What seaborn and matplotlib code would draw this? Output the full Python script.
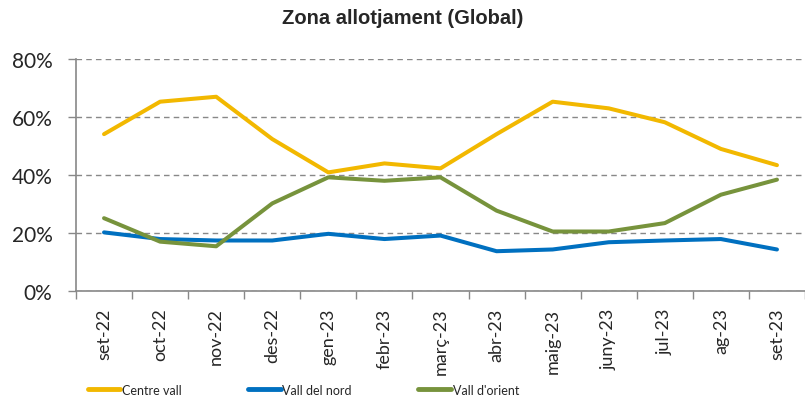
import seaborn as sns
import matplotlib.pyplot as plt
import matplotlib.ticker as mticker
import pandas as pd
import numpy as np

# Monthly share per zone (%)
months = ["set-22", "oct-22", "nov-22", "des-22", "gen-23", "febr-23", "març-23",
          "abr-23", "maig-23", "juny-23", "jul-23", "ag-23", "set-23"]
centre_vall = [54.1, 65.3, 67.0, 52.4, 40.9, 44.0, 42.3, 54.1, 65.3, 63.0, 58.2, 49.0, 43.4]
vall_nord = [20.2, 17.9, 17.4, 17.4, 19.7, 17.9, 19.1, 13.7, 14.3, 16.8, 17.4, 17.9, 14.3]
vall_orient = [25.1, 17.0, 15.4, 30.2, 39.2, 38.0, 39.2, 27.7, 20.5, 20.5, 23.4, 33.2, 38.4]
series_names = ["Centre vall", "Vall del nord", "Vall d'orient"]
colors = ["#F2B800", "#0070C0", "#77933C"]

df = pd.DataFrame({
    "pos": list(range(len(months))) * 3,
    "value": centre_vall + vall_nord + vall_orient,
    "zona": [n for n in series_names for _ in months],
})

sns.set_theme(style="white")
plt.rcParams["font.family"] = ["Lato", "DejaVu Sans"]

fig = plt.figure(figsize=(8.05, 4.06), dpi=100)
ax = fig.add_axes([0.0944, 0.281, 0.9056, 0.571])

sns.lineplot(data=df, x="pos", y="value", hue="zona", palette=colors,
             linewidth=2.9, ax=ax, legend=False)

ax.set_ylim(0, 80)
ax.set_xlim(-0.5, 12.29)
ax.set_yticks(np.arange(0, 81, 20))
ax.yaxis.set_major_formatter(mticker.FuncFormatter(lambda v, p: f"{v:.0f}%"))
ax.set_xticks(range(len(months)))
ax.set_xticklabels(months, rotation=90)
ax.set_xticks(np.arange(-0.5, len(months), 1), minor=True)
ax.tick_params(axis="x", which="major", length=0, labelsize=13, pad=12)
ax.tick_params(axis="x", which="minor", length=6, color="#888888", width=1, direction="out", bottom=True)
ax.tick_params(axis="y", length=6, color="#888888", width=1, direction="out", left=True,
               labelsize=15, pad=11)
ax.set_xlabel("")
ax.set_ylabel("")

ax.yaxis.grid(True, linestyle=(0, (4, 3)), color="#888888", linewidth=1)
ax.set_axisbelow(True)
for s in ["top", "right"]:
    ax.spines[s].set_visible(False)
for s in ["left", "bottom"]:
    ax.spines[s].set_color("#888888")
    ax.spines[s].set_linewidth(1.2)

fig.suptitle("Zona allotjament (Global)", x=0.5, y=0.978, fontsize=14.5, fontweight="bold",
             family=["Liberation Sans", "DejaVu Sans"])

handles = [plt.Line2D([], [], color=c, linewidth=3.5) for c in colors]
fig.legend(handles, series_names, loc="lower left", bbox_to_anchor=(0.095, -0.005), ncol=3,
           frameon=False, fontsize=9, handlelength=2.6, handletextpad=0.15, columnspacing=5.3)

fig.savefig("out.png", dpi=100)
